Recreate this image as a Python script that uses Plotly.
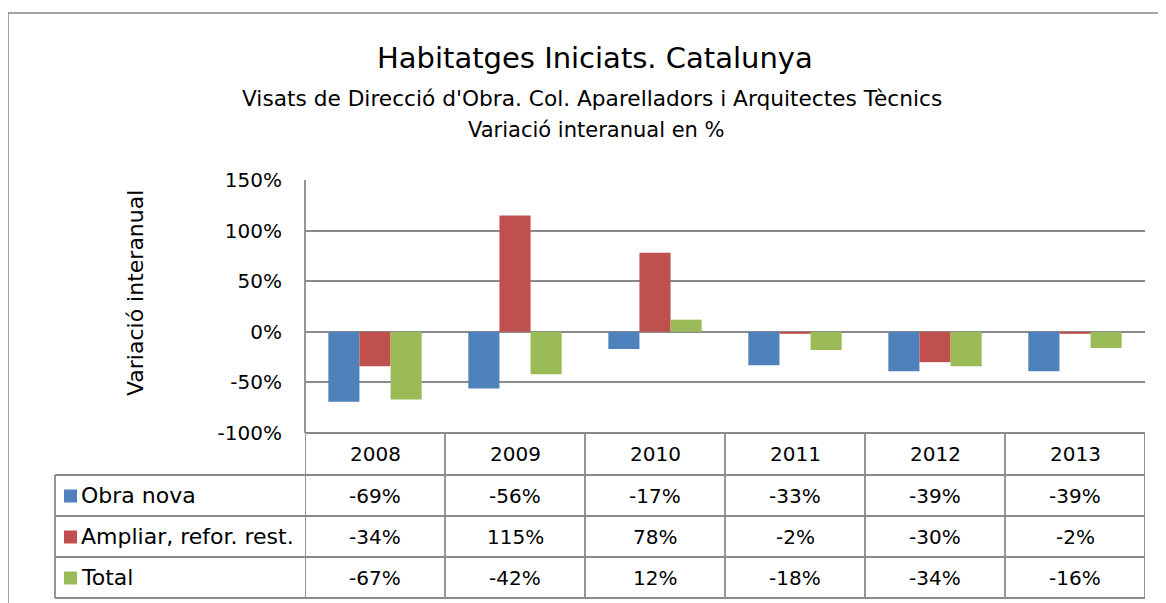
import plotly.graph_objects as go

years = ["2008", "2009", "2010", "2011", "2012", "2013"]
series_names = ["Obra nova", "Ampliar, refor. rest.", "Total"]
obra_nova = [-69, -56, -17, -33, -39, -39]
ampliar = [-34, 115, 78, -2, -30, -2]
total = [-67, -42, 12, -18, -34, -16]
colors = ["#4F81BD", "#C0504D", "#9BBB59"]
tick_vals = [-100, -50, 0, 50, 100, 150]

title = "Habitatges Iniciats. Catalunya"
subtitle1 = "Visats de Direcció d'Obra. Col. Aparelladors i Arquitectes Tècnics"
subtitle2 = "Variació interanual en %"
ytitle = "Variació interanual"

# page body has an 8px margin; figure sized to fit the window
OFF = 8
W, H = 1166 - OFF, 603 - OFF
L, R, T, B = 305, 1145, 180, 433  # plot area in window pixels
FONT = "DejaVu Sans"
GRID = "#8A8A8A"
BODY = 20


def px(x):
    return (x - L) / (R - L)


def py(y):
    return (B - y) / (B - T)


fig = go.Figure()
all_series = [obra_nova, ampliar, total]
for name, vals, c in zip(series_names, all_series, colors):
    fig.add_trace(go.Bar(x=years, y=vals, name=name, marker=dict(color=c, line=dict(width=0)),
                         showlegend=False))

shapes = []
annotations = []

# outer chart border
shapes.append(dict(type="rect", xref="paper", yref="paper", x0=px(8), x1=px(1161), y0=py(640), y1=py(13),
                   line=dict(color="#868686", width=1.5), layer="below"))

# table geometry
row_edges = [433, 475, 516, 557, 598]
line_style = dict(color=GRID, width=1.8)
shapes.append(dict(type="line", xref="paper", yref="paper", x0=px(L), x1=px(R), y0=py(433), y1=py(433), line=line_style))
for ye in row_edges[1:]:
    shapes.append(dict(type="line", xref="paper", yref="paper", x0=px(55), x1=px(R), y0=py(ye), y1=py(ye), line=line_style))
for i in range(len(years) + 1):
    shapes.append(dict(type="line", xref="x", yref="paper", x0=i - 0.5, x1=i - 0.5, y0=py(598), y1=py(433), line=line_style))
shapes.append(dict(type="line", xref="paper", yref="paper", x0=px(55), x1=px(55), y0=py(598), y1=py(475), line=line_style))
shapes.append(dict(type="line", xref="paper", yref="paper", x0=0, x1=0, y0=0, y1=1, line=line_style))

tfont = dict(family=FONT, size=BODY, color="#000000")
lfont = dict(family=FONT, size=22, color="#000000")
for i, yr in enumerate(years):
    annotations.append(dict(x=i, y=py(454), xref="x", yref="paper", text=yr, showarrow=False, font=tfont,
                            xanchor="center", yanchor="middle"))
for r, (name, vals, c) in enumerate(zip(series_names, all_series, colors)):
    ymid = (row_edges[r + 1] + row_edges[r + 2]) / 2
    shapes.append(dict(type="rect", xref="paper", yref="paper", x0=px(64), x1=px(77), y0=py(ymid + 7), y1=py(ymid - 6),
                       fillcolor=c, line=dict(width=0)))
    annotations.append(dict(x=px(79), y=py(ymid), xref="paper", yref="paper", text=name, showarrow=False, font=lfont,
                            xanchor="left", yanchor="middle"))
    for i, v in enumerate(vals):
        annotations.append(dict(x=i, y=py(ymid), xref="x", yref="paper", text=f"{v}%", showarrow=False, font=tfont,
                                xanchor="center", yanchor="middle"))

annotations.append(dict(x=px(595), y=py(58), xref="paper", yref="paper", text=title, showarrow=False,
                        font=dict(family=FONT, size=29, color="#000"), xanchor="center", yanchor="middle"))
annotations.append(dict(x=px(592), y=py(98), xref="paper", yref="paper", text=subtitle1, showarrow=False,
                        font=dict(family=FONT, size=21.7, color="#000"), xanchor="center", yanchor="middle"))
annotations.append(dict(x=px(596), y=py(130), xref="paper", yref="paper", text=subtitle2, showarrow=False,
                        font=dict(family=FONT, size=21, color="#000"), xanchor="center", yanchor="middle"))
annotations.append(dict(x=px(135), y=py(293), xref="paper", yref="paper", text=ytitle, showarrow=False, textangle=-90,
                        font=dict(family=FONT, size=22, color="#000"), xanchor="center", yanchor="middle"))

fig.update_layout(
    width=W, height=H,
    margin=dict(l=L - OFF, r=1166 - R, t=T - OFF, b=603 - B, pad=0),
    paper_bgcolor="white", plot_bgcolor="white",
    barmode="group", bargap=1.5 / 4.5, bargroupgap=0,
    shapes=shapes, annotations=annotations,
    xaxis=dict(type="category", range=[-0.5, len(years) - 0.5], showticklabels=False, showgrid=False,
               zeroline=False, showline=False, ticks=""),
    yaxis=dict(range=[-100, 150], tickvals=tick_vals, ticktext=[f"{v}%" for v in tick_vals],
               showgrid=True, gridcolor=GRID, gridwidth=1.5, zeroline=False, showline=False,
               tickfont=dict(family=FONT, size=BODY, color="#000"), ticklabelstandoff=22),
)

fig.write_html("out.html")
